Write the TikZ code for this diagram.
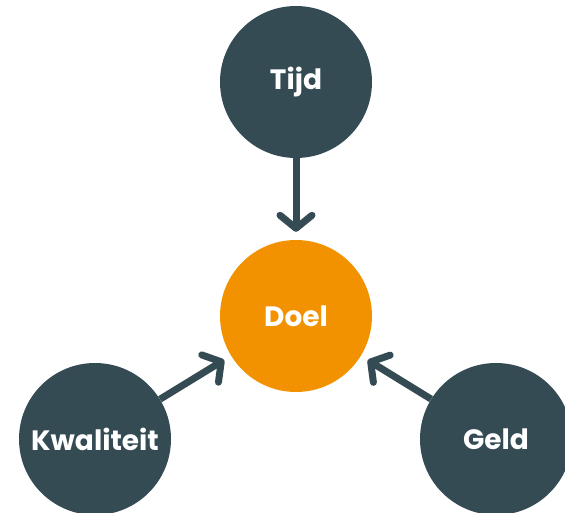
\documentclass[tikz,border=0pt]{standalone}
\usepackage{fontspec}
\setmainfont{Poppins}
\usetikzlibrary{arrows.meta}
\definecolor{slate}{HTML}{344B54}
\definecolor{amber}{HTML}{F29200}
\tikzset{
  x=1pt, y=1pt,
  bubble/.style={circle, fill=#1, minimum size=152pt, inner sep=0pt,
    text=white, font=\fontsize{28}{32}\selectfont\bfseries},
  link/.style={draw=slate, line width=7pt,
    -{Straight Barb[length=13pt, width=32pt, round]}, shorten >=8pt}
}
\begin{document}
\begin{tikzpicture}
  \useasboundingbox (0,0) rectangle (565,512);
  \clip (0,0) rectangle (565,512);
  \node[bubble=slate] (tijd) at (296,430) {Tijd};
  \node[bubble=amber] (doel) at (296,196) {Doel};
  \node[bubble=slate] (kwal) at (95,73) {Kwaliteit};
  \node[bubble=slate] (geld) at (496,73) {Geld};
  \draw[link] (tijd) -- (doel);
  \draw[link] (kwal) -- (doel);
  \draw[link] (geld) -- (doel);
\end{tikzpicture}
\end{document}
